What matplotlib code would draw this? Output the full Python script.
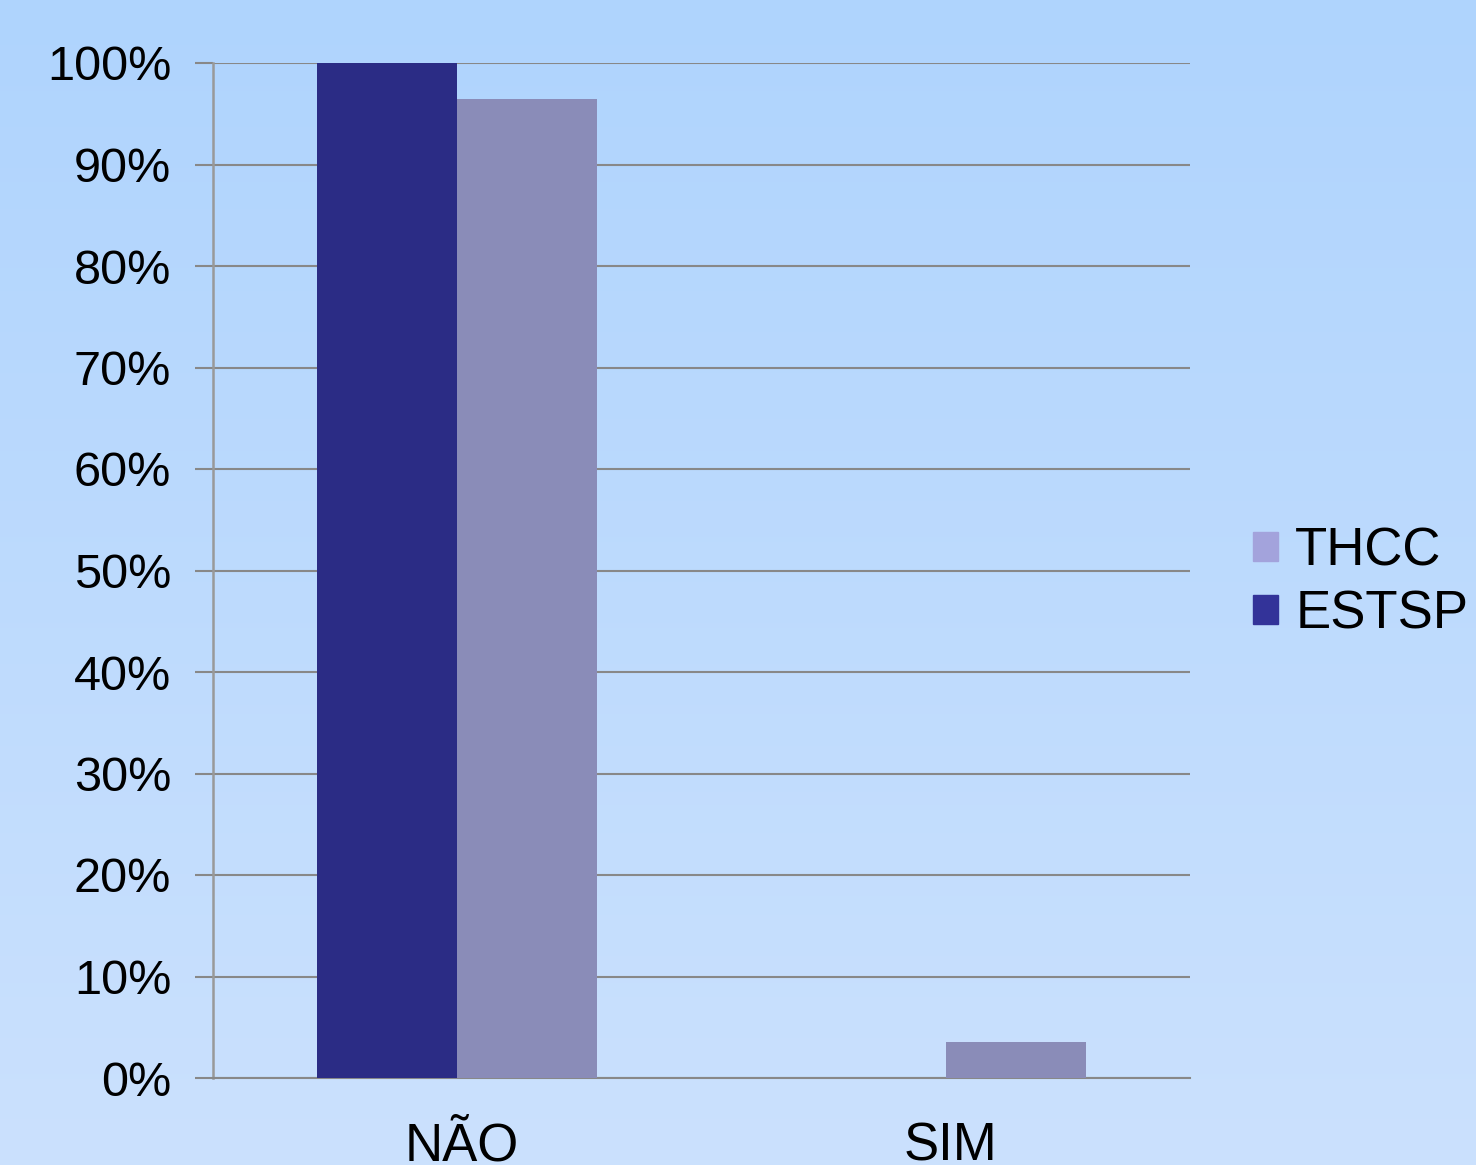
import numpy as np
import matplotlib
matplotlib.use("Agg")
import matplotlib.pyplot as plt
from matplotlib.patches import Patch

categories = ["NÃO", "SIM"]
estsp = [100.0, 0.0]
thcc = [96.5, 3.5]
yticks = [0, 10, 20, 30, 40, 50, 60, 70, 80, 90, 100]

plt.rcParams["font.family"] = ["Liberation Sans", "DejaVu Sans"]

W, H, DPI = 1476, 1165, 100
fig = plt.figure(figsize=(W / DPI, H / DPI), dpi=DPI)

# Soft vertical gradient background
bg = fig.add_axes([0, 0, 1, 1], zorder=-10)
grad = np.linspace(0, 1, 256).reshape(-1, 1)
top = np.array([0xAF, 0xD4, 0xFD]) / 255
bot = np.array([0xCB, 0xE1, 0xFD]) / 255
img = top + (bot - top) * grad[..., None]
bg.imshow(img, aspect="auto", extent=[0, 1, 0, 1])
bg.axis("off")

ax = fig.add_axes([213 / W, 1 - 1078 / H, (1190 - 213) / W, (1078 - 63) / H])
ax.patch.set_alpha(0)

x = np.arange(len(categories))
bw = 140 / 488.5
ax.bar(x - bw / 2, estsp, bw, color="#2b2c85", zorder=3)
ax.bar(x + bw / 2, thcc, bw, color="#8a8cb8", zorder=3)

ax.set_xlim(-0.5, 1.5)
ax.set_ylim(0, 100)
ax.set_yticks(yticks)
ax.set_yticklabels([f"{v}%" for v in yticks], fontsize=35)
ax.set_xticks(x + 0.01)
ax.set_xticklabels(categories, fontsize=38)
ax.tick_params(axis="x", length=0, pad=31)
ax.tick_params(axis="y", length=13, width=1.5, color="#888888", pad=17)

ax.yaxis.grid(True, color="#888888", linewidth=1.5, zorder=0)
for s in ["top", "right"]:
    ax.spines[s].set_visible(False)
ax.spines["left"].set_color("#999999")
ax.spines["left"].set_linewidth(1.8)
ax.spines["bottom"].set_color("#888888")
ax.spines["bottom"].set_linewidth(1.5)

handles = [Patch(color="#a3a3dc", label="THCC"), Patch(color="#333399", label="ESTSP")]
fig.legend(handles=handles, loc="center left", bbox_to_anchor=(1253 / W, 1 - 583 / H),
           frameon=False, fontsize=38, handlelength=0.47, handleheight=0.47,
           handletextpad=0.33, labelspacing=0.25, borderpad=0, borderaxespad=0)

fig.savefig("out.png", dpi=DPI)
